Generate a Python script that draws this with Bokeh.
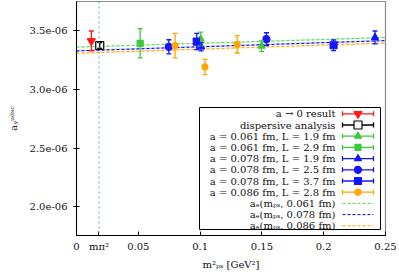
from bokeh.plotting import figure
from bokeh.models import ColumnDataSource, Whisker, TeeHead, Span, FixedTicker, Range1d
from bokeh.embed import file_html
from bokeh.resources import INLINE

FONT = "DejaVu Serif"

# ---- data ----
m_pi_sq = 0.0182

red_x = [0.012];  red_y = [3.415e-6];  red_err = [0.085e-6]
disp_x = [0.0188]; disp_y = [3.376e-6]; disp_err = [0.025e-6]
g19_x = [0.1005, 0.1497]; g19_y = [3.43e-6, 3.37e-6]; g19_err = [0.06e-6, 0.045e-6]
g29_x = [0.0515]; g29_y = [3.395e-6]; g29_err = [0.125e-6]
b19_x = [0.1008, 0.2415]; b19_y = [3.365e-6, 3.445e-6]; b19_err = [0.035e-6, 0.055e-6]
b25_x = [0.0747, 0.1537]; b25_y = [3.365e-6, 3.43e-6]; b25_err = [0.06e-6, 0.055e-6]
b37_x = [0.0973, 0.208]; b37_y = [3.41e-6, 3.378e-6]; b37_err = [0.07e-6, 0.045e-6]
o28_x = [0.0798, 0.104, 0.130]; o28_y = [3.375e-6, 3.193e-6, 3.386e-6]; o28_err = [0.105e-6, 0.065e-6, 0.074e-6]

fit_x = [0.0, 0.25]
fit061 = [3.362e-6, 3.444e-6]
fit078 = [3.330e-6, 3.418e-6]
fit086 = [3.310e-6, 3.397e-6]
fit_band = 0.008e-6

x_ticks = [0.0, m_pi_sq, 0.05, 0.1, 0.15, 0.2, 0.25]
x_tick_labels = ["0", "mπ²", "0.05", "0.1", "0.15", "0.2", "0.25"]
y_ticks = [2.0e-6, 2.5e-6, 3.0e-6, 3.5e-6]
y_tick_labels = ["2.0e-06", "2.5e-06", "3.0e-06", "3.5e-06"]

leg_labels = ["a → 0 result", "dispersive analysis",
              "a = 0.061 fm, L = 1.9 fm", "a = 0.061 fm, L = 2.9 fm",
              "a = 0.078 fm, L = 1.9 fm", "a = 0.078 fm, L = 2.5 fm",
              "a = 0.078 fm, L = 3.7 fm", "a = 0.086 fm, L = 2.8 fm",
              "aₑ(mₚₛ, 0.061 fm)", "aₑ(mₚₛ, 0.078 fm)", "aₑ(mₚₛ, 0.086 fm)"]

RED = "#ff1a1a"; BLACK = "#000000"; GREEN = "#3dc83d"; BLUE = "#1515ff"; ORANGE = "#ffa500"
GREEN_FIT = "#55d855"; BLUE_FIT = "#0000e0"; ORANGE_FIT = "#ffa500"

series = [
    (red_x, red_y, red_err, RED, "inverted_triangle", RED, 8),
    (disp_x, disp_y, disp_err, BLACK, "square", "white", 8),
    (g19_x, g19_y, g19_err, GREEN, "triangle", GREEN, 7),
    (g29_x, g29_y, g29_err, GREEN, "square", GREEN, 6),
    (b19_x, b19_y, b19_err, BLUE, "triangle", BLUE, 7),
    (b25_x, b25_y, b25_err, BLUE, "circle", BLUE, 7),
    (b37_x, b37_y, b37_err, BLUE, "square", BLUE, 7),
    (o28_x, o28_y, o28_err, ORANGE, "circle", ORANGE, 6),
]

FW, FH = 309, 234
p = figure(width=399, height=272, x_range=(0, 0.25), y_range=(1.7526e-6, 3.752e-6),
           output_backend="svg", toolbar_location=None,
           min_border_left=76, min_border_right=14, min_border_top=1, min_border_bottom=37)
p.grid.visible = False
p.outline_line_color = "#888888"
p.outline_line_width = 1.2
p.background_fill_color = "white"

# axes
xa = p.xaxis[0]
xa.ticker = FixedTicker(ticks=x_ticks)
xa.major_label_overrides = {t: l for t, l in zip(x_ticks, x_tick_labels)}
xa.axis_label = "m²ₚₛ [GeV²]"
ya = p.yaxis[0]
ya.ticker = FixedTicker(ticks=y_ticks)
ya.major_label_overrides = {t: l for t, l in zip(y_ticks, y_tick_labels)}
ya.axis_label = "aᵧᵘᵈˢᶜ"
for ax in (xa, ya):
    ax.minor_tick_line_color = None
    ax.major_label_text_font = FONT
    ax.major_label_text_font_size = "10px"
    ax.major_label_text_color = "#111111"
    ax.axis_label_text_font = FONT
    ax.axis_label_text_font_size = "10px"
    ax.axis_label_text_font_style = "normal"
    ax.axis_label_text_color = "#111111"
    ax.axis_line_color = "black"
    ax.major_tick_line_color = "black"
xa.major_tick_in = 4; xa.major_tick_out = 0
xa.major_label_standoff = 5; xa.axis_label_standoff = 4
ya.major_tick_in = 3; ya.major_tick_out = 3
ya.major_label_standoff = 6; ya.axis_label_standoff = 8

# vertical physical-point line
p.add_layout(Span(location=m_pi_sq, dimension="height", line_color="#6aa8a0",
                  line_dash="2 3", line_width=1))

# fit lines with faint bands
for fy, col in ((fit061, GREEN_FIT), (fit078, BLUE_FIT), (fit086, ORANGE_FIT)):
    p.varea(x=fit_x, y1=[v - fit_band for v in fy], y2=[v + fit_band for v in fy],
            fill_color=col, fill_alpha=0.18)
    p.line(fit_x, fy, line_color=col, line_dash="3 2", line_width=1)

# data with error bars
for xs, ys, es, col, mk, fill, sz in series:
    src = ColumnDataSource(dict(x=xs, y=ys,
                                upper=[a + b for a, b in zip(ys, es)],
                                lower=[a - b for a, b in zip(ys, es)]))
    p.add_layout(Whisker(source=src, base="x", upper="upper", lower="lower",
                         dimension="height", line_color=col, line_width=1.3,
                         upper_head=TeeHead(size=5, line_color=col, line_width=1.3),
                         lower_head=TeeHead(size=5, line_color=col, line_width=1.3),
                         level="glyph"))
    p.scatter("x", "y", source=src, marker=mk, size=sz, fill_color=fill,
              line_color=col, line_width=1.2)

# ---- legend, drawn in frame-pixel coordinates ----
p.extra_x_ranges = {"lx": Range1d(0, FW)}
p.extra_y_ranges = {"ly": Range1d(FH, 0)}
L = dict(x_range_name="lx", y_range_name="ly")
p.quad(left=123, right=304, top=106, bottom=228, fill_color="white",
       line_color="black", line_width=1, **L)
row_y = [112.3 + 11.2 * i for i in range(len(leg_labels))]
p.text(x=[259] * len(leg_labels), y=row_y, text=leg_labels, text_align="right",
       text_baseline="middle", text_font={"value": FONT}, text_font_size="10px",
       text_color="#111111", **L)
x0, x1, xm = 266, 297, 281.5
for i, (xs, ys, es, col, mk, fill, sz) in enumerate(series):
    yy = row_y[i]
    p.segment(x0=[x0], y0=[yy], x1=[x1], y1=[yy], line_color=col, line_width=1.3, **L)
    p.segment(x0=[x0, x1], y0=[yy - 2.5, yy - 2.5], x1=[x0, x1], y1=[yy + 2.5, yy + 2.5],
              line_color=col, line_width=1.3, **L)
    p.scatter(x=[xm], y=[yy], marker=mk, size=sz, fill_color=fill, line_color=col,
              line_width=1.2, **L)
for j, col in enumerate((GREEN_FIT, BLUE_FIT, ORANGE_FIT)):
    yy = row_y[len(series) + j]
    p.segment(x0=[x0], y0=[yy], x1=[x1], y1=[yy], line_color=col, line_dash="3 2",
              line_width=1, **L)

open("out.html", "w").write(file_html(p, INLINE))
